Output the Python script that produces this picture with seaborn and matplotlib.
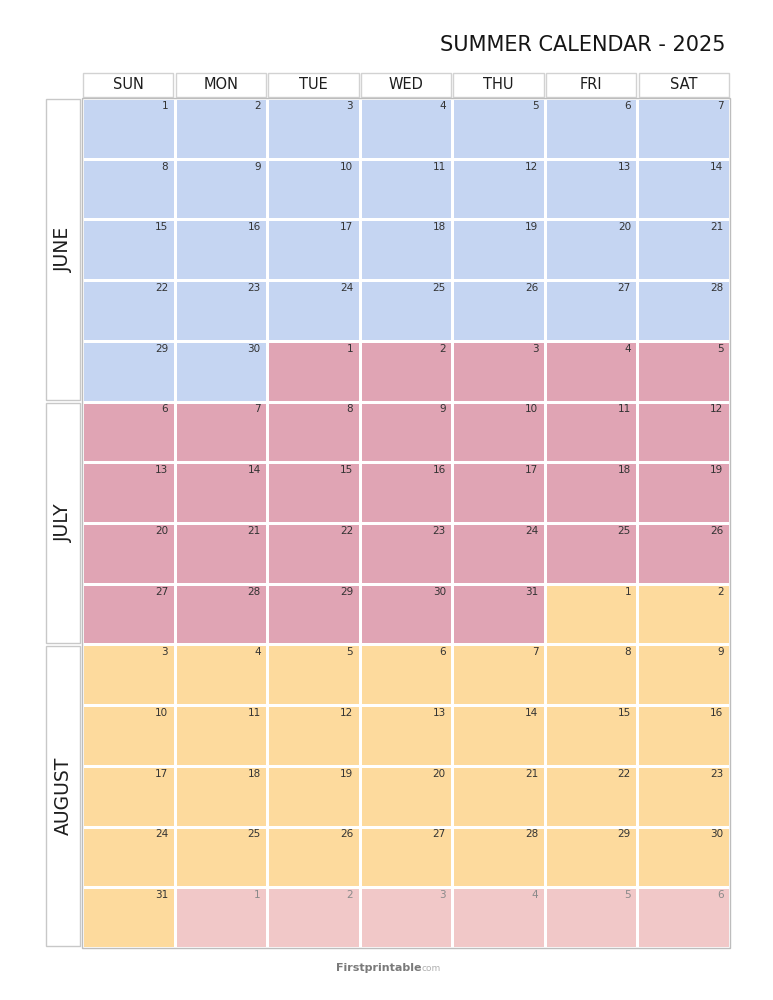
import numpy as np
import pandas as pd
import matplotlib
matplotlib.use("Agg")
import matplotlib.pyplot as plt
from matplotlib.colors import ListedColormap
from matplotlib.patches import Rectangle
import seaborn as sns

# ---- data ----
title = "SUMMER CALENDAR - 2025"
weekdays = ["SUN", "MON", "TUE", "WED", "THU", "FRI", "SAT"]
months = ["JUNE", "JULY", "AUGUST"]
month_lengths = [30, 31, 31]
next_month_days = [1, 2, 3, 4, 5, 6]      # September spill-over
month_rows = [5, 4, 5]                    # rows (weeks) labelled per month
month_colors = ["#C5D5F2", "#E0A4B4", "#FDDA9D", "#F1C8C8"]

# ---- build grid (June 1 2025 is a Sunday) ----
days, codes = [], []
for m, n in enumerate(month_lengths):
    days += list(range(1, n + 1))
    codes += [m] * n
days += next_month_days
codes += [3] * len(next_month_days)
n_rows = len(days) // 7
day_grid = np.array(days).reshape(n_rows, 7)
code_grid = pd.DataFrame(np.array(codes).reshape(n_rows, 7), columns=weekdays)

sns.set_theme(style="white")
plt.rcParams["font.family"] = ["DejaVu Sans"]

fig = plt.figure(figsize=(7.73, 10), dpi=100)
W, H = 773, 1000
ax = fig.add_axes([82 / W, 1 - 948 / H, (730 - 82) / W, (948 - 98) / H])

sns.heatmap(code_grid, cmap=ListedColormap(month_colors), vmin=-0.5, vmax=3.5,
            cbar=False, linewidths=1.0, linecolor="white",
            xticklabels=False, yticklabels=False, ax=ax)
ax.set_xlabel("")
ax.set_ylabel("")

# outer border
ax.add_patch(Rectangle((0, 0), 7, n_rows, fill=False, edgecolor="#BDBDBD",
                       lw=1.0, clip_on=False, zorder=5))

# day numbers (top right of each cell)
for r in range(n_rows):
    for c in range(7):
        faded = code_grid.iloc[r, c] == 3
        ax.text(c + 0.93, r + 0.13, str(day_grid[r, c]), ha="right", va="center",
                fontsize=7.5, color="#8A8A8A" if faded else "#333333")

# weekday header boxes
for c, wd in enumerate(weekdays):
    ax.add_patch(Rectangle((c + 0.012, -0.41), 0.976, 0.39, facecolor="white",
                           edgecolor="#D2D2D2", lw=1.0, clip_on=False))
    ax.text(c + 0.5, -0.215, wd, ha="center", va="center", fontsize=10.5,
            color="#1E1E1E")

# month label boxes
start = 0
for name, nr in zip(months, month_rows):
    ax.add_patch(Rectangle((-0.385, start + 0.02), 0.365, nr - 0.05,
                           facecolor="white", edgecolor="#C8C8C8", lw=1.0,
                           clip_on=False))
    ax.text(-0.2, start + nr / 2, name, rotation=90, ha="center", va="center",
            fontsize=13.5, color="#1E1E1E")
    start += nr

fig.text(726 / W, 1 - 45 / H, title, ha="right", va="center", fontsize=15,
         color="#151515")

fig.text(421 / W, 1 - 968 / H, "Firstprintable", ha="right", va="center",
         fontsize=8, fontweight="bold", color="#7A7A7A")
fig.text(421 / W, 1 - 968.5 / H, "com", ha="left", va="center",
         fontsize=6.5, color="#B0B0B0")

fig.savefig("out.png", dpi=100)
